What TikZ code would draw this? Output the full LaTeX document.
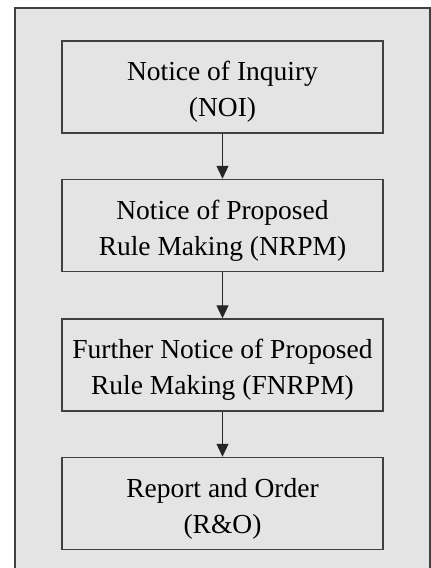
\documentclass[tikz,border=0pt]{standalone}
\usepackage{fontspec}
\setmainfont{Liberation Serif}
\usetikzlibrary{positioning,arrows.meta}
\definecolor{panelgray}{RGB}{228,228,228}

\begin{document}
\begin{tikzpicture}
    [x=1pt, y=-1pt,
     stage/.style={draw=black!75,line width=1.5pt,fill=panelgray,
       minimum width=321pt,minimum height=92pt,inner sep=0pt,align=center,
       font=\fontsize{27.5}{36}\selectfont,text height=66pt,text depth=7pt},
     flow/.style={draw=black!85,line width=1.3pt,-{Triangle[width=12pt,length=13pt]}}]
    \useasboundingbox (0, 0) rectangle (431, 568);
    \clip (0, 0) rectangle (431, 568);

    % Panel
    \draw [draw=black!75, line width=2pt, fill=panelgray] (15, 8) rectangle (430, 600);

    % Stages
    \node (noi) at (222.5, 87) [stage] {Notice of Inquiry\\(NOI)};
    \node (nrpm) [below=45pt of noi] [stage] {Notice of Proposed\\Rule Making (NRPM)};
    \node (fnrpm) [below=46pt of nrpm] [stage] {Further Notice of Proposed\\Rule Making (FNRPM)};
    \node (ro) [below=45pt of fnrpm] [stage] {Report and Order\\(R\&O)};

    \draw [flow] (noi) -- (nrpm);
    \draw [flow] (nrpm) -- (fnrpm);
    \draw [flow] (fnrpm) -- (ro);
\end{tikzpicture}
\end{document}
